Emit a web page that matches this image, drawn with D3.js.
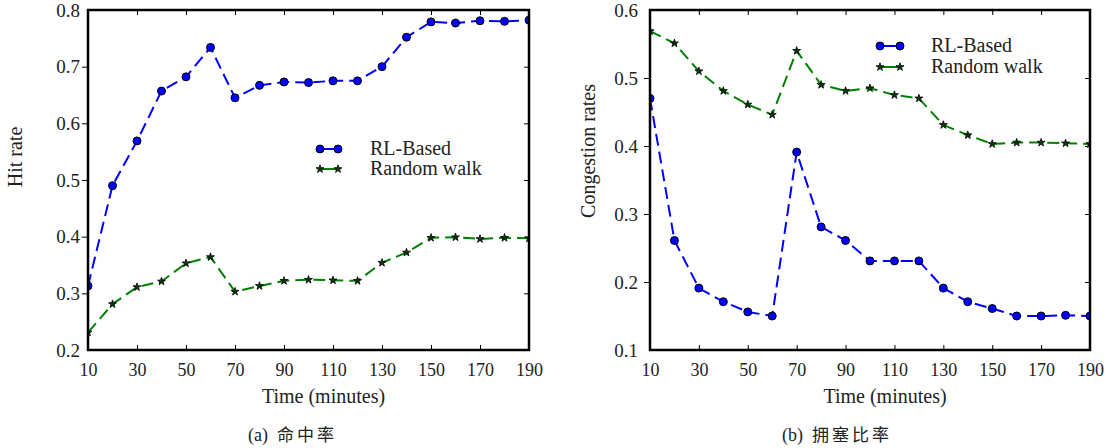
<!DOCTYPE html>
<html>
<head>
<meta charset="utf-8">
<script src="https://cdn.jsdelivr.net/npm/d3@7"></script>
<style>
  body { margin: 0; background: #fff; }
  svg { display: block; }
  svg text { font-family: "Times New Roman", "Liberation Serif", "DejaVu Serif", serif; fill: #222; }
  svg text.cap { font-family: "Times New Roman", "Liberation Serif", "Noto Sans CJK SC", serif; }
</style>
</head>
<body>
<svg id="chart" width="1108" height="448"></svg>
<script>
// data
const minutes = [10, 20, 30, 40, 50, 60, 70, 80, 90, 100, 110, 120, 130, 140, 150, 160, 170, 180, 190];
const hitRL = [0.313, 0.490, 0.569, 0.657, 0.682, 0.734, 0.645, 0.667, 0.673, 0.672, 0.675, 0.675, 0.700, 0.752, 0.779, 0.777, 0.781, 0.780, 0.782];
const hitRW = [0.231, 0.281, 0.311, 0.321, 0.353, 0.364, 0.303, 0.313, 0.322, 0.324, 0.323, 0.322, 0.354, 0.372, 0.398, 0.399, 0.396, 0.398, 0.397];
const congRL = [0.470, 0.261, 0.191, 0.171, 0.156, 0.150, 0.391, 0.281, 0.261, 0.231, 0.231, 0.231, 0.191, 0.171, 0.161, 0.150, 0.150, 0.151, 0.150];
const congRW = [0.569, 0.551, 0.510, 0.481, 0.461, 0.446, 0.540, 0.490, 0.481, 0.485, 0.475, 0.470, 0.431, 0.416, 0.403, 0.405, 0.405, 0.404, 0.403];
const xTicks = [10, 30, 50, 70, 90, 110, 130, 150, 170, 190];
const hitTicks = [0.2, 0.3, 0.4, 0.5, 0.6, 0.7, 0.8];
const congTicks = [0.1, 0.2, 0.3, 0.4, 0.5, 0.6];
const seriesNames = ["RL-Based", "Random walk"];

const svg = d3.select("#chart");
const blue = "#0000ff", green = "#008000";
const serif = "'Times New Roman', 'Liberation Serif', 'DejaVu Serif', serif";

function drawPanel(p) {
  const x = d3.scaleLinear().domain([10, 190]).range([p.left, p.right]);
  const y = d3.scaleLinear().domain(p.yDomain).range([p.bottom, p.top]);
  const g = svg.append("g");

  g.append("clipPath").attr("id", p.id)
    .append("rect")
    .attr("x", p.left).attr("y", p.top)
    .attr("width", p.right - p.left).attr("height", p.bottom - p.top);

  // ticks (inner ones only)
  const innerX = xTicks.slice(1, -1), innerY = p.yTicks.slice(1, -1);
  g.append("g").attr("transform", `translate(0,${p.bottom})`)
    .call(d3.axisTop(x).tickValues(innerX).tickSize(5).tickFormat(""))
    .call(a => a.select(".domain").remove());
  g.append("g").attr("transform", `translate(0,${p.top})`)
    .call(d3.axisBottom(x).tickValues(innerX).tickSize(5).tickFormat(""))
    .call(a => a.select(".domain").remove());
  g.append("g").attr("transform", `translate(${p.left},0)`)
    .call(d3.axisLeft(y).tickValues(innerY).tickSize(6).tickFormat(""))
    .call(a => a.select(".domain").remove());
  g.append("g").attr("transform", `translate(${p.right},0)`)
    .call(d3.axisLeft(y).tickValues(innerY).tickSize(5).tickFormat(""))
    .call(a => a.select(".domain").remove());

  // tick labels
  g.append("g").attr("transform", `translate(0,${p.bottom})`)
    .attr("font-family", serif)
    .call(d3.axisBottom(x).tickValues(xTicks).tickSize(0).tickPadding(13).tickFormat(d3.format("d")))
    .call(a => a.select(".domain").remove())
    .selectAll("text").attr("font-size", 18).attr("fill", "#222");
  g.append("g").attr("transform", `translate(${p.left},0)`)
    .attr("font-family", serif)
    .call(d3.axisLeft(y).tickValues(p.yTicks).tickSize(0).tickPadding(p.yPad).tickFormat(d3.format(".1f")))
    .call(a => a.select(".domain").remove())
    .selectAll("text").attr("font-size", 19).attr("fill", "#222");

  // axis titles
  g.append("text")
    .attr("x", (p.left + p.right) / 2 + 15).attr("y", p.bottom + 53)
    .attr("text-anchor", "middle").attr("font-size", 20)
    .text("Time (minutes)");
  g.append("text")
    .attr("transform", `translate(${p.yLabelX},${p.yLabelY}) rotate(-90)`)
    .attr("text-anchor", "middle").attr("font-size", 20)
    .text(p.yLabel);

  // caption: serif label, then CJK title
  const cap = g.append("text").attr("class", "cap")
    .attr("x", p.capX).attr("y", 441)
    .attr("font-size", 18);
  cap.append("tspan").text(p.capTag);
  cap.append("tspan").attr("dx", 9).attr("letter-spacing", 3)
    .attr("font-family", "'Noto Sans CJK SC', sans-serif").attr("font-size", 17)
    .text(p.caption);

  const line = d3.line().x((d, i) => x(minutes[i])).y(d => y(d));
  const plot = g.append("g").attr("clip-path", `url(#${p.id})`);
  const star = d3.symbol().type(d3.symbolStar).size(20);

  // Random walk
  plot.append("path").datum(p.rw)
    .attr("fill", "none").attr("stroke", green).attr("stroke-width", 2)
    .attr("stroke-dasharray", "12,6").attr("d", line);
  plot.selectAll(".star").data(p.rw).join("path").attr("class", "star")
    .attr("transform", (d, i) => `translate(${x(minutes[i])},${y(d)})`)
    .attr("d", star).attr("fill", "#0a3a0a").attr("stroke", "#000").attr("stroke-width", 0.8);

  // RL-Based
  plot.append("path").datum(p.rl)
    .attr("fill", "none").attr("stroke", blue).attr("stroke-width", 2)
    .attr("stroke-dasharray", "12,6").attr("d", line);
  plot.selectAll(".dot").data(p.rl).join("circle").attr("class", "dot")
    .attr("cx", (d, i) => x(minutes[i])).attr("cy", d => y(d)).attr("r", 4)
    .attr("fill", blue).attr("stroke", "#000").attr("stroke-width", 1);

  // frame
  g.append("rect")
    .attr("x", p.left).attr("y", p.top)
    .attr("width", p.right - p.left).attr("height", p.bottom - p.top)
    .attr("fill", "none").attr("stroke", "#000").attr("stroke-width", 2.5);

  // legend
  const lg = g.append("g");
  const [lx0, lx1] = p.legX, [ly0, ly1] = p.legY;
  lg.append("line").attr("x1", lx0).attr("x2", lx1).attr("y1", ly0).attr("y2", ly0)
    .attr("stroke", blue).attr("stroke-width", 2);
  lg.selectAll(".ld").data([lx0, lx1]).join("circle").attr("class", "ld")
    .attr("cx", d => d).attr("cy", ly0).attr("r", 4)
    .attr("fill", blue).attr("stroke", "#000");
  lg.append("line").attr("x1", lx0).attr("x2", lx1).attr("y1", ly1).attr("y2", ly1)
    .attr("stroke", green).attr("stroke-width", 2);
  lg.selectAll(".ls").data([lx0, lx1]).join("path").attr("class", "ls")
    .attr("transform", d => `translate(${d},${ly1})`)
    .attr("d", star).attr("fill", "#0a3a0a").attr("stroke", "#000").attr("stroke-width", 0.8);
  lg.selectAll(".lt").data(seriesNames).join("text").attr("class", "lt")
    .attr("x", p.legTextX).attr("y", (d, i) => [ly0, ly1][i] + 6)
    .attr("font-size", 20)
    .text(d => d);
}

drawPanel({
  id: "clipA", left: 88, right: 529, top: 10, bottom: 350,
  yDomain: [0.2, 0.8], yTicks: hitTicks, yPad: 8,
  rl: hitRL, rw: hitRW,
  yLabel: "Hit rate", yLabelX: 22, yLabelY: 157,
  capTag: "(a)", caption: "命中率", capX: 248,
  legX: [320, 338], legY: [149, 169], legTextX: 370
});

drawPanel({
  id: "clipB", left: 650, right: 1090, top: 10, bottom: 350,
  yDomain: [0.1, 0.6], yTicks: congTicks, yPad: 12,
  rl: congRL, rw: congRW,
  yLabel: "Congestion rates", yLabelX: 595, yLabelY: 151,
  capTag: "(b)", caption: "拥塞比率", capX: 782,
  legX: [880, 900], legY: [46, 67], legTextX: 931
});
</script>
</body>
</html>
